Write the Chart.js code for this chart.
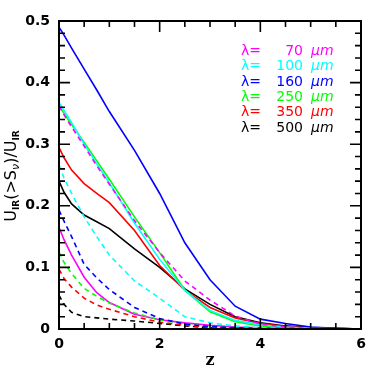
<!DOCTYPE html>
<html>
<head>
<meta charset="utf-8">
<script src="https://cdn.jsdelivr.net/npm/chart.js@4/dist/chart.umd.min.js"></script>
<style>
  html, body { margin: 0; padding: 0; background: #fff; }
  #wrap { width: 382px; height: 382px; }
</style>
</head>
<body>
<div id="wrap"><canvas id="uirChart" width="382" height="382"></canvas></div>
<script>
// redshift grid
const zGrid = [0, 0.1, 0.25, 0.5, 0.75, 1, 1.5, 2, 2.5, 3, 3.5, 4, 4.5, 5, 5.5, 6];

// solid curves
const solid70  = [0.165, 0.145, 0.120, 0.084, 0.059, 0.043, 0.024, 0.015, 0.010, 0.006, 0.003, 0.002, 0.001, 0, 0, 0];
const solid100 = [0.368, 0.355, 0.335, 0.300, 0.268, 0.237, 0.172, 0.113, 0.063, 0.030, 0.014, 0.007, 0.003, 0.001, 0.0005, 0];
const solid160 = [0.490, 0.477, 0.456, 0.422, 0.388, 0.353, 0.290, 0.220, 0.140, 0.080, 0.037, 0.016, 0.009, 0.003, 0.001, 0];
const solid250 = [0.362, 0.350, 0.332, 0.303, 0.273, 0.243, 0.182, 0.124, 0.063, 0.028, 0.012, 0.005, 0.002, 0.001, 0, 0];
const solid350 = [0.295, 0.278, 0.258, 0.236, 0.220, 0.205, 0.160, 0.103, 0.063, 0.035, 0.018, 0.009, 0.004, 0.002, 0.001, 0];
const solid500 = [0.240, 0.222, 0.203, 0.185, 0.174, 0.163, 0.130, 0.100, 0.065, 0.040, 0.020, 0.010, 0.005, 0.002, 0.001, 0];

// dashed curves
const dash70  = [0.362, 0.348, 0.328, 0.297, 0.265, 0.235, 0.176, 0.124, 0.078, 0.047, 0.021, 0.008, 0.003, 0.001, 0, 0];
const dash100 = [0.266, 0.245, 0.220, 0.182, 0.150, 0.120, 0.078, 0.050, 0.020, 0.010, 0.005, 0.002, 0.001, 0, 0, 0];
const dash160 = [0.193, 0.175, 0.150, 0.105, 0.083, 0.064, 0.035, 0.017, 0.008, 0.004, 0.002, 0.001, 0, 0, 0, 0];
const dash250 = [0.125, 0.108, 0.090, 0.066, 0.053, 0.042, 0.026, 0.015, 0.008, 0.004, 0.002, 0.001, 0, 0, 0, 0];
const dash350 = [0.097, 0.082, 0.068, 0.050, 0.039, 0.032, 0.020, 0.011, 0.006, 0.003, 0.001, 0.0005, 0, 0, 0, 0];
const dash500 = [0.055, 0.040, 0.027, 0.020, 0.018, 0.016, 0.013, 0.009, 0.005, 0.002, 0.001, 0, 0, 0, 0, 0];

// legend
const lambdas = ['70', '100', '160', '250', '350', '500'];
const colors  = ['#ff00ff', '#00ffff', '#0000ff', '#00ff00', '#ff0000', '#000000'];

const xTicks = [0, 2, 4, 6];
const yTicks = [0, 0.1, 0.2, 0.3, 0.4, 0.5];

function pts(ys) {
    return zGrid.map(function(z, i) { return { x: z, y: ys[i] }; });
}

const solids = [solid70, solid100, solid160, solid250, solid350, solid500];
const dashes = [dash70, dash100, dash160, dash250, dash350, dash500];

const datasets = [];
dashes.forEach(function(d, i) {
    datasets.push({ data: pts(d), borderColor: colors[i], borderWidth: 1.6, borderDash: [5, 4], pointRadius: 0, fill: false, tension: 0 });
});
solids.forEach(function(d, i) {
    datasets.push({ data: pts(d), borderColor: colors[i], borderWidth: 1.6, pointRadius: 0, fill: false, tension: 0 });
});

const tickFont = { family: 'DejaVu Sans', size: 14, weight: 'bold' };

const framePlugin = {
    id: 'frame',
    afterDraw(chart) {
        const ctx = chart.ctx;
        const a = chart.chartArea;
        const xs = chart.scales.x, ys = chart.scales.y;
        ctx.save();
        ctx.strokeStyle = '#000';
        ctx.lineWidth = 2;
        ctx.strokeRect(a.left, a.top, a.right - a.left, a.bottom - a.top);

        // inward ticks, x every 0.5 (major every 2)
        ctx.lineWidth = 1.6;
        ctx.beginPath();
        for (let i = 0; i <= 12; i++) {
            const px = xs.getPixelForValue(i * 0.5);
            const len = (i % 4 === 0) ? 11 : 6;
            ctx.moveTo(px, a.bottom); ctx.lineTo(px, a.bottom - len);
            ctx.moveTo(px, a.top); ctx.lineTo(px, a.top + len);
        }
        // y every 0.02 (major every 0.1)
        for (let j = 0; j <= 25; j++) {
            const py = ys.getPixelForValue(j * 0.02);
            const len = (j % 5 === 0) ? 11 : 6;
            ctx.moveTo(a.left, py); ctx.lineTo(a.left + len, py);
            ctx.moveTo(a.right, py); ctx.lineTo(a.right - len, py);
        }
        ctx.stroke();

        // legend text
        ctx.textBaseline = 'middle';
        lambdas.forEach(function(l, i) {
            const y = 51.5 + i * 15.3;
            ctx.fillStyle = colors[i];
            ctx.font = '14px "DejaVu Sans"';
            ctx.textAlign = 'left';
            ctx.fillText('λ=', 241, y);
            ctx.textAlign = 'right';
            ctx.fillText(l, 303, y);
            ctx.textAlign = 'left';
            ctx.font = 'italic 14px "DejaVu Sans"';
            ctx.fillText('μm', 311, y);
        });

        // x title
        ctx.fillStyle = '#000';
        ctx.font = 'bold 16px "DejaVu Serif"';
        ctx.textAlign = 'center';
        ctx.fillText('z', 210, 361);

        // y title, rotated, with subscripts
        ctx.translate(16, 176);
        ctx.rotate(-Math.PI / 2);
        ctx.textBaseline = 'alphabetic';
        const parts = [
            ['U', 16, 0, ''], ['IR', 9, 3, 'bold '], ['(>S', 16, 0, ''], ['ν', 11, 3, 'italic '], [')/U', 16, 0, ''], ['IR', 9, 3, 'bold ']
        ];
        let total = 0;
        parts.forEach(function(p) { ctx.font = p[3] + p[1] + 'px "DejaVu Sans"'; total += ctx.measureText(p[0]).width; });
        let cx = -total / 2;
        ctx.textAlign = 'left';
        parts.forEach(function(p) {
            ctx.font = p[3] + p[1] + 'px "DejaVu Sans"';
            ctx.fillText(p[0], cx, p[2]);
            cx += ctx.measureText(p[0]).width;
        });
        ctx.restore();
    }
};

new Chart(document.getElementById('uirChart').getContext('2d'), {
    type: 'line',
    data: { datasets: datasets },
    options: {
        responsive: false,
        animation: false,
        layout: { padding: { top: 21, right: 21, left: 0, bottom: 0 } },
        plugins: { legend: { display: false }, tooltip: { enabled: false } },
        scales: {
            x: {
                type: 'linear', min: 0, max: 6,
                afterBuildTicks(s) { s.ticks = xTicks.map(function(v) { return { value: v }; }); },
                afterFit(s) { s.height = 53; },
                ticks: { font: tickFont, color: '#000', padding: 7, maxRotation: 0 },
                grid: { display: false, drawTicks: false },
                border: { display: false }
            },
            y: {
                type: 'linear', min: 0, max: 0.5,
                afterBuildTicks(s) { s.ticks = yTicks.map(function(v) { return { value: v }; }); },
                afterFit(s) { s.width = 59; },
                ticks: {
                    font: tickFont, color: '#000', padding: 9,
                    callback: function(v) { return v === 0 ? '0' : v.toFixed(1); }
                },
                grid: { display: false, drawTicks: false },
                border: { display: false }
            }
        }
    },
    plugins: [framePlugin]
});
</script>
</body>
</html>
